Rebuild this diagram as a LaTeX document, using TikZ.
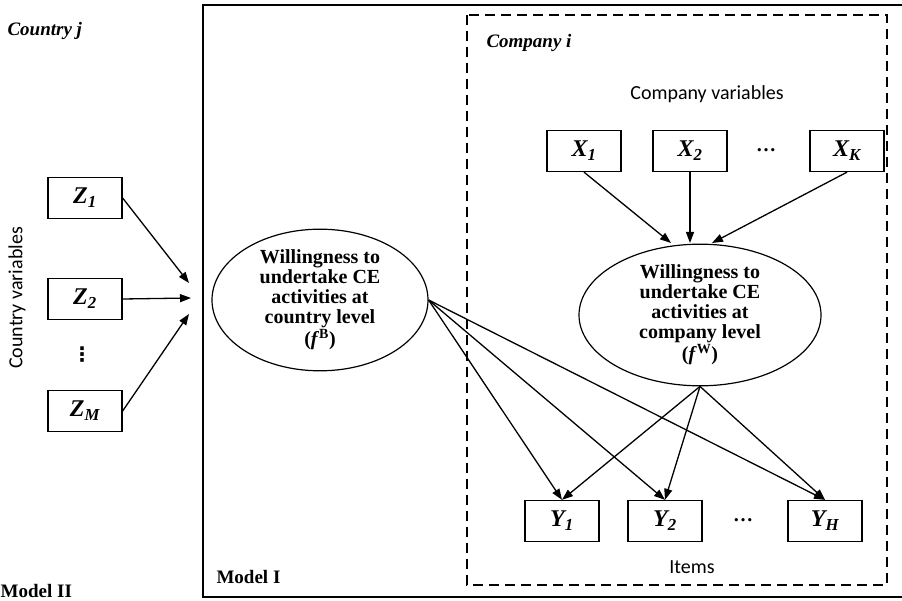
\documentclass[tikz,border=0pt]{standalone}
\usepackage{fontspec}
\setmainfont{Liberation Serif}
\newfontfamily\calfont{Carlito}
\newfontfamily\symfont{DejaVu Sans}
\usetikzlibrary{shapes.geometric,arrows.meta}

\tikzset{
  varbox/.style={draw,line width=1.3pt,minimum width=74pt,minimum height=41pt,inner sep=0pt,
    font=\fontsize{24}{26}\selectfont\bfseries\itshape},
  latent/.style={draw,line width=1.2pt,ellipse,inner sep=0pt,align=center,
    font=\fontsize{20}{20}\selectfont\bfseries},
  arr/.style={-{Triangle[length=11pt,width=8pt]},line width=1.3pt},
  grouplabel/.style={font=\fontsize{19}{21}\selectfont\bfseries\itshape,anchor=west},
  modellabel/.style={font=\fontsize{19}{21}\selectfont\bfseries,anchor=west},
  sanslabel/.style={font=\calfont\fontsize{20}{22}\selectfont},
  dotslabel/.style={font=\fontsize{20}{22}\selectfont\bfseries}
}

\begin{document}
\begin{tikzpicture}[x=1pt,y=-1pt]
\useasboundingbox (0,0) rectangle (902,601);

% frames
\draw[line width=2.5pt] (904,5) -- (203,5) -- (203,597) -- (904,597);
\draw[line width=1.5pt,dash pattern=on 10pt off 6pt] (467,15) rectangle (887,585);

\node[grouplabel] (country) at (4,31) {Country j};
\node[grouplabel] (company) at (483,43) {Company i};
\node[modellabel] (model1) at (213,577) {Model I};
\node[modellabel,inner sep=0pt] (model2) at (0.5,591) {Model II};

% country variables
\node[sanslabel,rotate=90] (cvar) at (17,298) {Country variables};
\node[varbox] (z1) at (85,198) {Z\textsubscript{1}};
\node[varbox] (z2) at (85,299) {Z\textsubscript{2}};
\node[font=\symfont\fontsize{20}{22}\selectfont\bfseries] (zdots) at (82,355) {⋮};
\node[varbox] (zm) at (85,411) {Z\textsubscript{M}};

\coordinate (z1end) at (189,283);
\coordinate (z2end) at (191,298);
\coordinate (zmend) at (189,314);
\draw[arr] (z1.east) -- (z1end);
\draw[arr] (z2.east) -- (z2end);
\draw[arr] (zm.east) -- (zmend);

% company variables
\node[sanslabel] (xvar) at (707,94) {Company variables};
\node[varbox] (x1) at (584,151) {X\textsubscript{1}};
\node[varbox] (x2) at (690,151) {X\textsubscript{2}};
\node[dotslabel] (xdots) at (766,150) {…};
\node[varbox] (xk) at (847,151) {X\textsubscript{K}};

% latent variables
\node[latent,minimum width=216pt,minimum height=124pt] (lb) at (320,300)
  {Willingness to\\undertake CE\\activities at\\country level\\(\textit{f}\textsuperscript{B})};
\node[latent,minimum width=242pt,minimum height=140pt] (lw) at (700,315)
  {Willingness to\\undertake CE\\activities at\\company level\\(\textit{f}\textsuperscript{W})};

\coordinate (x1end) at (671,243);
\coordinate (x2end) at (690,243);
\coordinate (xkend) at (712,243);
\draw[arr] (x1.south) -- (x1end);
\draw[arr] (x2.south) -- (x2end);
\draw[arr] (xk.south) -- (xkend);

% items
\node[varbox] (y1) at (562,521) {Y\textsubscript{1}};
\node[varbox] (y2) at (665,521) {Y\textsubscript{2}};
\node[dotslabel] (ydots) at (743,520) {…};
\node[varbox] (yh) at (825,521) {Y\textsubscript{H}};
\node[sanslabel] (items) at (692,567) {Items};

\draw[arr] (lb.east) -- (y1.north);
\draw[arr] (lb.east) -- (y2.north);
\draw[arr] (lb.east) -- (yh.north);
\draw[arr] (lw.south) -- (y1.north);
\draw[arr] (lw.south) -- (y2.north);
\draw[arr] (lw.south) -- (yh.north);
\end{tikzpicture}
\end{document}
